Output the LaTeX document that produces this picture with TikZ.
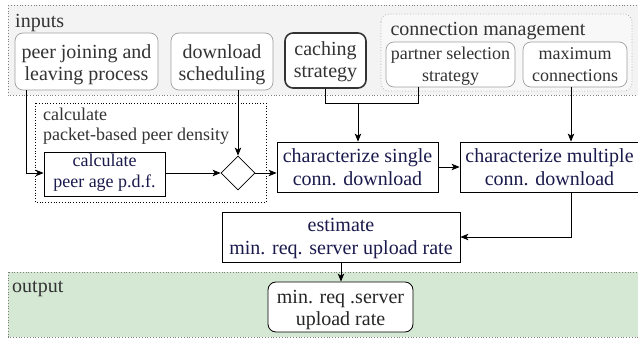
\documentclass[tikz,border=0pt]{standalone}
\usepackage{fontspec}
\setmainfont{Liberation Serif}
\usetikzlibrary{arrows.meta,shapes.geometric}
\definecolor{navy}{HTML}{1A1A4D}
\definecolor{darktext}{HTML}{333333}
\definecolor{bandgray}{HTML}{F3F3F3}
\definecolor{bandgreen}{HTML}{D5E8D4}
\begin{document}
\begin{tikzpicture}[x=1pt,y=-1pt,
  big/.style={font=\fontsize{20}{22}\selectfont},
  small/.style={font=\fontsize{18}{22}\selectfont},
  label/.style={text=darktext, anchor=base west, inner sep=0},
  inbox/.style={draw=gray!75, line width=0.7pt, rounded corners=8pt, fill=white, text=darktext, align=center, inner sep=0pt, text depth=5pt},
  proc/.style={draw=black, line width=0.8pt, fill=white, text=navy, align=center, inner sep=0pt, text depth=5pt},
  band/.style={draw=gray, dotted, line width=0.8pt},
  conn/.style={draw=black, line width=0.8pt},
  arr/.style={conn, -{Stealth[length=8pt,width=6.5pt,inset=2pt]}}]
\useasboundingbox (0,0) rectangle (638,339);
% bands
\draw[band, fill=bandgray] (8,5) rectangle (648,95);
\draw[band, fill=bandgreen] (8,272) rectangle (648,337);
\node[big, label] (inlabel) at (15,28) {inputs};
\node[big, label] (outlabel) at (12,293) {output};
% connection management container
\draw[draw=gray!60, dotted, line width=0.8pt, rounded corners=8pt, fill=bandgray!60] (381,14) rectangle (632,91);
\node[big, text=darktext, anchor=base, inner sep=0] (cmlabel) at (488,36) {connection management};
% input boxes
\node[inbox, big, text height=44pt, minimum width=143, minimum height=57] (peer) at (86.5,61.5) {peer joining and\\leaving process};
\node[inbox, big, text height=44pt, minimum width=102, minimum height=57] (dl) at (222,61.5) {download\\scheduling};
\node[inbox, big, text height=40pt, draw=darktext, line width=1.6pt, minimum width=81, minimum height=55] (cache) at (325.5,60.5) {caching\\strategy};
\node[inbox, small, text height=40pt, minimum width=129, minimum height=45] (partner) at (450.5,64.5) {partner selection\\strategy};
\node[inbox, small, text height=40pt, minimum width=104, minimum height=45] (maxc) at (575,64.5) {maximum\\connections};
% density container
\draw[black, dotted, line width=0.8pt] (35,103) rectangle (266,202);
\node[label, font=\fontsize{18}{19}\selectfont] (dens1) at (43,121) {calculate};
\node[label, font=\fontsize{18}{19}\selectfont] (dens2) at (43,141) {packet-based peer density};
% process boxes
\node[proc, font=\fontsize{18}{21}\selectfont, text height=33pt, minimum width=121, minimum height=44] (pdf) at (104.5,174) {calculate\\peer age p.d.f.};
\node[diamond, draw=black, line width=0.8pt, fill=white, minimum width=34, minimum height=34, inner sep=0] (dia) at (238,173) {};
\node[proc, font=\fontsize{20}{23}\selectfont, text height=43pt, minimum width=161, minimum height=50] (single) at (357.5,167) {characterize single\\conn. download};
\node[proc, font=\fontsize{20}{23}\selectfont, text height=43pt, minimum width=179, minimum height=50] (multi) at (549.5,167) {characterize multiple\\conn. download};
\node[proc, font=\fontsize{20}{23}\selectfont, text height=41pt, minimum width=238, minimum height=50] (est) at (341,237) {estimate\\min. req. server upload rate};
\node[inbox, big, text height=43pt, draw=black, line width=0.8pt, text=black!85, minimum width=145, minimum height=50] (outbox) at (340.5,307) {min. req .server\\upload rate};
% connectors
\draw[arr] ([xshift=12]peer.south west) |- (dia.west -| pdf.west);
\draw[arr] (dia.north |- dl.south) -- (dia.north);
\draw[arr] (dia.west -| pdf.east) -- (dia.west);
\draw[arr] (dia.east) -- (dia.east -| single.west);
\coordinate (j) at (358,103);
\coordinate (pj) at (418,87);
\draw[conn] (cache.south) |- (pj |- j) -- (pj);
\draw[arr] (j) -- (j |- single.north);
\coordinate (mx) at (571,87);
\draw[arr] (mx) -- (mx |- multi.north);
\draw[arr] (single.east) -- (single.east -| multi.west);
\draw[arr] (mx |- multi.south) |- (est.east);
\draw[arr] (est.south) -- (est.south |- outbox.north);
\end{tikzpicture}
\end{document}
